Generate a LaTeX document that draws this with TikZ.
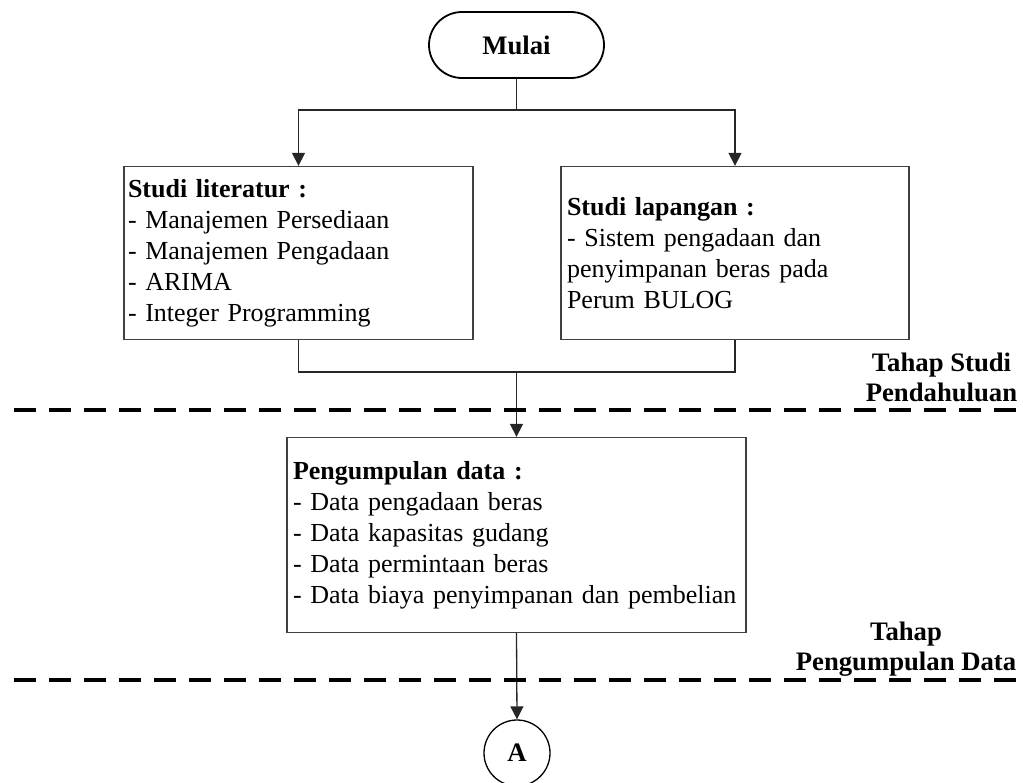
\documentclass[tikz,border=0pt]{standalone}
\usepackage{fontspec}
\setmainfont{Liberation Serif}
\usetikzlibrary{arrows.meta}
\tikzset{
  base/.style={font=\fontsize{26.0}{31}\selectfont},
  term/.style={base, draw, line width=1.8pt, rounded corners=33pt, minimum width=175pt, minimum height=66pt, inner sep=0pt, font=\fontsize{26.7}{31}\selectfont\bfseries},
  procbox/.style={base, draw=black!75, line width=1.3pt, align=left, inner ysep=0pt},
  conn/.style={draw=black!85, line width=1.3pt},
  arr/.style={conn, -{Triangle[length=13pt,width=13pt]}},
  phase/.style={line width=3.6pt, dash pattern=on 22pt off 13pt},
  stagelabel/.style={font=\fontsize{26.7}{30}\selectfont\bfseries, align=center, inner sep=0pt},
  connector/.style={draw, circle, line width=1.3pt, minimum size=66pt, inner sep=0pt, font=\fontsize{26.7}{31}\selectfont\bfseries}
}
\begin{document}
\begin{tikzpicture}[x=1pt,y=-1pt]
\useasboundingbox (0,0) rectangle (1023,782);
\clip (0,0) rectangle (1023,782);

\node[term] (mulai) at (516.5,45) {Mulai};

\node[procbox, inner xsep=4pt, text width=341pt, minimum height=173pt] (lit) at (298.5,253)
  {\textbf{Studi literatur :}\\- Manajemen Persediaan\\- Manajemen Pengadaan\\- ARIMA\\- Integer Programming};
\node[procbox, inner xsep=6pt, text width=336pt, minimum height=173pt] (lap) at (735,253)
  {\textbf{Studi lapangan :}\\- Sistem pengadaan dan\\penyimpanan beras pada\\Perum BULOG};
\node[procbox, inner xsep=6pt, text width=447pt, minimum height=195pt] (data) at (516.5,535)
  {\textbf{Pengumpulan data :}\\- Data pengadaan beras\\- Data kapasitas gudang\\- Data permintaan beras\\\mbox{- Data biaya penyimpanan dan pembelian}};

\node[connector] (A) at (517,753) {A};

\coordinate (split) at (516.5,110);
\coordinate (join) at (516.5,372);

\draw[conn] (mulai.south) -- (split);
\draw[arr] (split) -| (lit.north);
\draw[arr] (split) -| (lap.north);
\draw[conn] (lit.south) |- (join) -| (lap.south);
\draw[arr] (join) -- (data.north);
\draw[arr] (data.south) -- (A.north);

\coordinate (d1a) at (14,410);
\coordinate (d1b) at (1023,410);
\coordinate (d2a) at (14,680);
\coordinate (d2b) at (1023,680);
\draw[phase] (d1a) -- (d1b);
\draw[phase] (d2a) -- (d2b);

\node[stagelabel] (lab1) at (941.5,377) {Tahap Studi\\Pendahuluan};
\node[stagelabel] (lab2) at (906,649) {Tahap\\Pengumpulan Data};
\end{tikzpicture}
\end{document}
